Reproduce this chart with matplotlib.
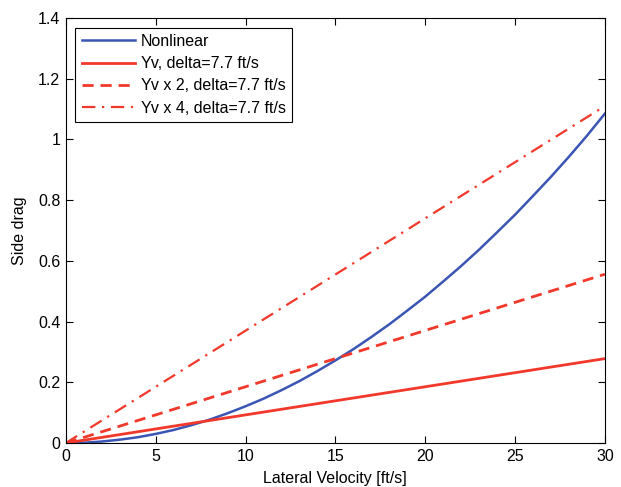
import matplotlib
matplotlib.use('Agg')
import matplotlib.pyplot as plt

plt.rcParams['font.family'] = ['Liberation Sans', 'DejaVu Sans']

# lateral velocity [ft/s]
v_nl = [0, 1, 2, 3, 4, 5, 6, 7, 8, 9, 10, 11, 12, 13, 14, 15, 16, 17, 18, 19, 20,
        21, 22, 23, 24, 25, 26, 27, 28, 29, 30]
drag_nl = [0, 0.001, 0.005, 0.011, 0.019, 0.030, 0.043, 0.059, 0.077, 0.098, 0.121,
           0.146, 0.174, 0.204, 0.237, 0.272, 0.309, 0.349, 0.391, 0.436, 0.482,
           0.532, 0.583, 0.637, 0.694, 0.752, 0.814, 0.877, 0.943, 1.012, 1.085]

v_lin = [0, 30]
drag_yv = [0, 0.278]
drag_yv2 = [0, 0.556]
drag_yv4 = [0, 1.110]

blue = '#3a55b4'
red = '#f2382a'

fig = plt.figure(figsize=(6.21, 4.87), dpi=100)
ax = fig.add_axes([0.106, 0.0903, 0.868, 0.8727])

ax.plot(v_nl, drag_nl, color=blue, lw=1.8, label='Nonlinear')
ax.plot(v_lin, drag_yv, color=red, lw=2, label='Yv, delta=7.7 ft/s')
ax.plot(v_lin, drag_yv2, color=red, lw=2, dashes=(4, 2.5), label='Yv x 2, delta=7.7 ft/s')
ax.plot(v_lin, drag_yv4, color=red, lw=1.6, dashes=(6, 3, 1, 3), label='Yv x 4, delta=7.7 ft/s')

ax.set_xlim(0, 30)
ax.set_ylim(0, 1.4)
ax.set_xticks([0, 5, 10, 15, 20, 25, 30])
ax.set_yticks([0, 0.2, 0.4, 0.6, 0.8, 1, 1.2, 1.4])
ax.set_yticklabels(['0', '0.2', '0.4', '0.6', '0.8', '1', '1.2', '1.4'])
ax.tick_params(direction='in', top=True, right=True, length=5, labelsize=11.5, pad=4)
ax.set_xlabel('Lateral Velocity [ft/s]', fontsize=11.5, labelpad=5)
ax.set_ylabel('Side drag', fontsize=11.5, labelpad=8)

leg = ax.legend(loc='upper left', fontsize=11.5, handlelength=3.3, frameon=True,
                fancybox=False, edgecolor='black', framealpha=1, borderaxespad=0.6,
                labelspacing=0.45, handletextpad=0.4, borderpad=0.4)
leg.get_frame().set_linewidth(0.8)

fig.savefig('out.png', dpi=100)
